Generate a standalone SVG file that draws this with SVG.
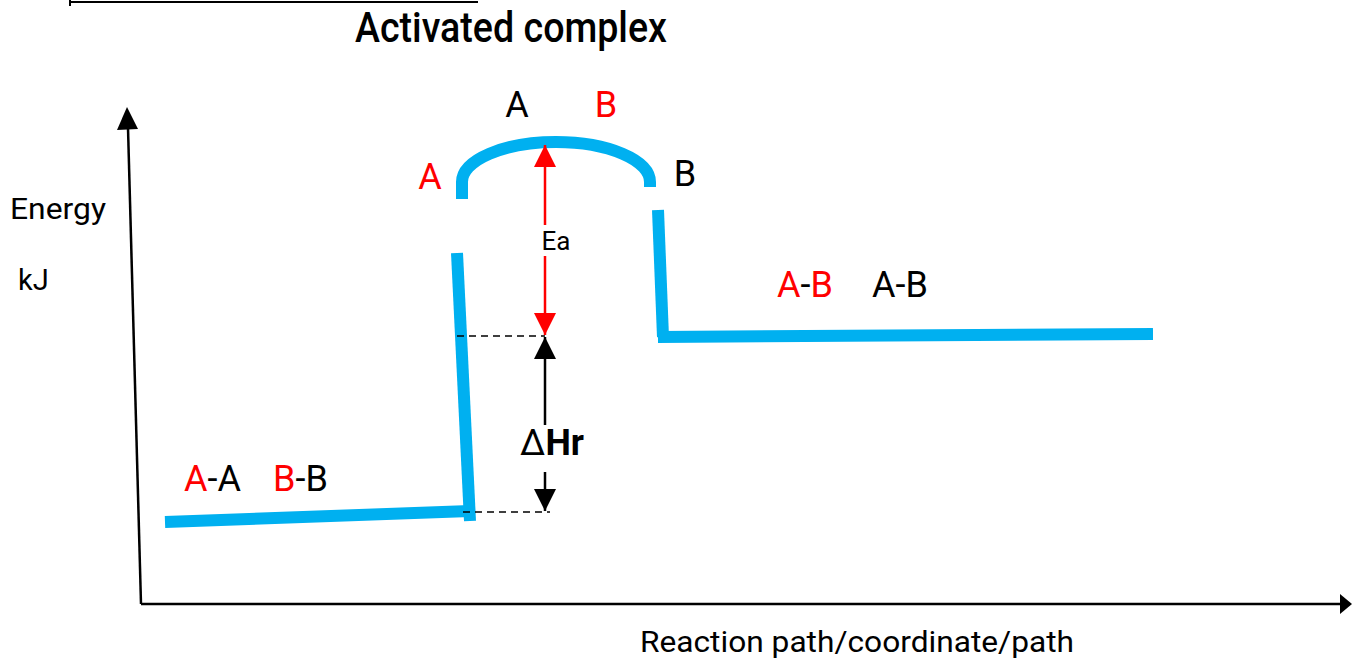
<svg xmlns="http://www.w3.org/2000/svg" width="1352" height="658" viewBox="0 0 1352 658">
<style>
text{font-family:Roboto,"Liberation Sans",sans-serif;fill:#000}
.r{fill:#ff0000}
.curve{fill:none;stroke:#00b0f0;stroke-width:12}
.ax{stroke:#000;stroke-width:2.5;fill:none}
.dash{stroke:#000;stroke-width:1.5;stroke-dasharray:7,5;fill:none}
</style>
<defs>
<marker id="bigB" viewBox="0 0 22 22" markerWidth="22" markerHeight="22" refX="22" refY="11" orient="auto" markerUnits="userSpaceOnUse"><path d="M0,0 L22,11 L0,22 z" fill="#000"/></marker>
<marker id="bigR" viewBox="0 0 22 22" markerWidth="22" markerHeight="22" refX="22" refY="11" orient="auto" markerUnits="userSpaceOnUse"><path d="M0,0 L22,11 L0,22 z" fill="#ff0000"/></marker>
</defs>
<g id="top-line"><line x1="69" y1="2" x2="478" y2="2" stroke="#000" stroke-width="2"/><line x1="70" y1="0" x2="70" y2="6" stroke="#000" stroke-width="2"/></g>
<g id="title"><text x="355" y="42" font-size="42" font-weight="500" textLength="312" lengthAdjust="spacingAndGlyphs">Activated complex</text></g>
<g id="axes">
<line class="ax" x1="141" y1="604" x2="128" y2="128"/>
<path d="M127,107 L117,130 L138,129 z" fill="#000"/>
<line class="ax" x1="141" y1="604" x2="1340" y2="604"/>
<path d="M1352,604 L1340,594 L1340,614 z" fill="#000"/>
</g>
<g id="energy-curve">
<line class="curve" x1="165" y1="522" x2="470" y2="511"/>
<line class="curve" x1="457" y1="253" x2="470" y2="521"/>
<path class="curve" d="M462,199 L462,182 A94,40 0 0 1 650,182 L650,187"/>
<line class="curve" x1="658" y1="210" x2="663" y2="337"/>
<line class="curve" x1="658" y1="337" x2="1153" y2="334"/>
</g>
<g id="connectors">
<line class="dash" x1="457" y1="336" x2="545" y2="336"/>
<line class="dash" x1="463" y1="512" x2="550" y2="512"/>
<line x1="545" y1="225" x2="545" y2="145" stroke="#ff0000" stroke-width="2.5" marker-end="url(#bigR)"/>
<line x1="545" y1="256" x2="545" y2="335" stroke="#ff0000" stroke-width="2.5" marker-end="url(#bigR)"/>
<line x1="545" y1="425" x2="545" y2="337" stroke="#000" stroke-width="2.5" marker-end="url(#bigB)"/>
<line x1="545" y1="472" x2="545" y2="511" stroke="#000" stroke-width="2.5" marker-end="url(#bigB)"/>
</g>
<g id="labels">
<text x="10" y="219" font-size="29" textLength="96" lengthAdjust="spacingAndGlyphs">Energy</text>
<text x="18" y="290" font-size="29">kJ</text>
<text x="517" y="117" font-size="36" text-anchor="middle">A</text>
<text x="606" y="117" font-size="36" text-anchor="middle" class="r">B</text>
<text x="430" y="189" font-size="36" text-anchor="middle" class="r">A</text>
<text x="685" y="186" font-size="36" text-anchor="middle">B</text>
<text x="556" y="250" font-size="26" text-anchor="middle">Ea</text>
<text x="552" y="455" font-size="36" text-anchor="middle">Δ<tspan font-weight="bold">Hr</tspan></text>
<text x="777" y="297" font-size="36"><tspan class="r">A</tspan>-<tspan class="r">B</tspan></text>
<text x="872" y="297" font-size="36">A-B</text>
<text x="184" y="491" font-size="36"><tspan class="r">A</tspan>-A</text>
<text x="273" y="491" font-size="36"><tspan class="r">B</tspan>-B</text>
<text x="640" y="652" font-size="30" textLength="434" lengthAdjust="spacingAndGlyphs">Reaction path/coordinate/path</text>
</g>
</svg>
